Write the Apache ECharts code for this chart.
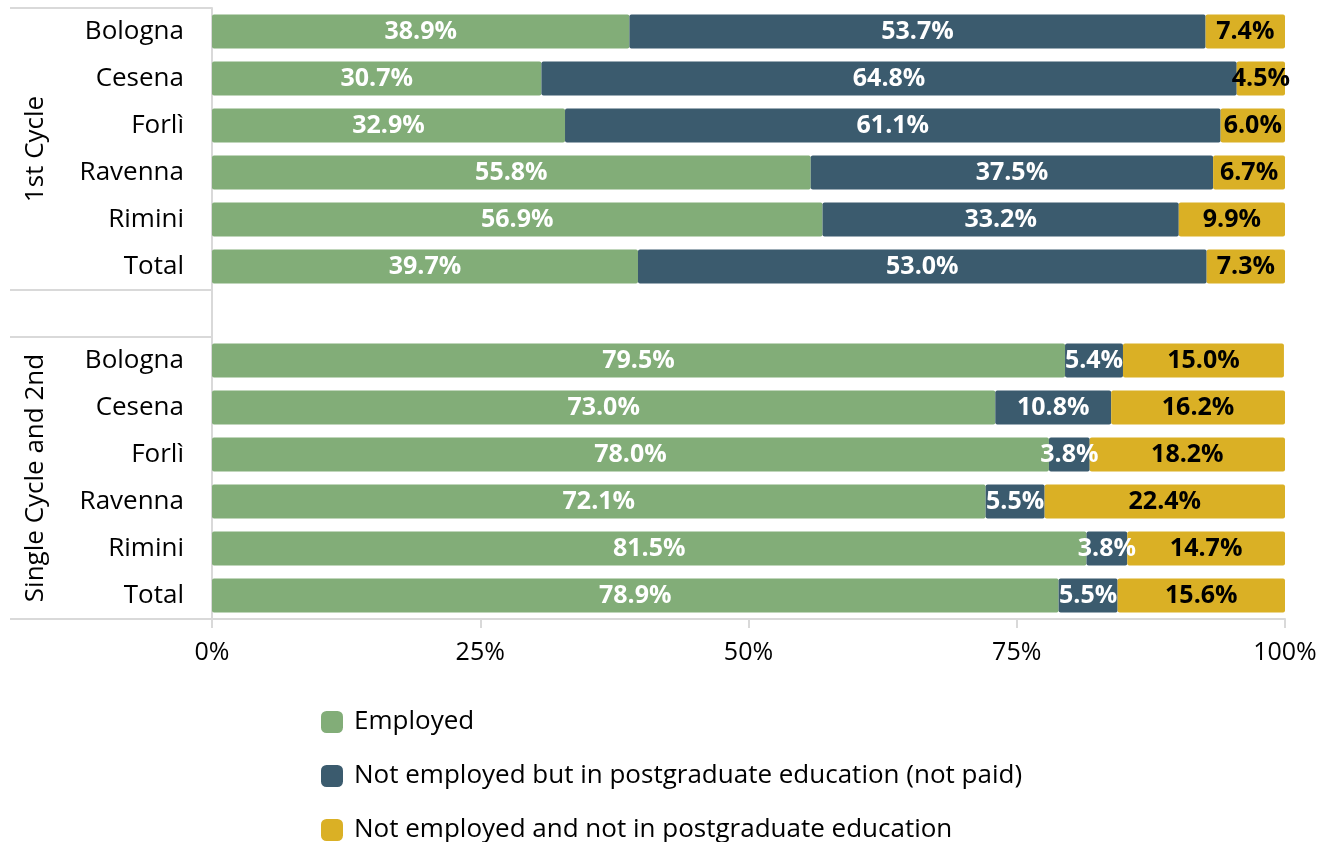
<!DOCTYPE html>
<html>
<head>
<meta charset="utf-8">
<script src="https://cdn.jsdelivr.net/npm/echarts@6/dist/echarts.min.js"></script>
<style>
  html, body { margin: 0; padding: 0; background: #fff; }
  #chart-container { width: 1320px; height: 842px; }
</style>
</head>
<body>
<div id="chart-container"></div>
<script>
// 類別 (中間空一行當作分組間隔)
const categories = ['Bologna', 'Cesena', 'Forlì', 'Ravenna', 'Rimini', 'Total', '',
                    'Bologna', 'Cesena', 'Forlì', 'Ravenna', 'Rimini', 'Total'];
const groupNames = ['1st Cycle', 'Single Cycle and 2nd'];
const seriesNames = ['Employed', 'Not employed but in postgraduate education (not paid)', 'Not employed and not in postgraduate education'];

// 各系列數值 (%)
const employed   = [38.9, 30.7, 32.9, 55.8, 56.9, 39.7, null, 79.5, 73.0, 78.0, 72.1, 81.5, 78.9];
const postgrad   = [53.7, 64.8, 61.1, 37.5, 33.2, 53.0, null,  5.4, 10.8,  3.8,  5.5,  3.8,  5.5];
const notEmpl    = [ 7.4,  4.5,  6.0,  6.7,  9.9,  7.3, null, 15.0, 16.2, 18.2, 22.4, 14.7, 15.6];

const xTicks = [0, 25, 50, 75, 100];

const colors = ['#82AD78', '#3B5B6E', '#DAB025'];
const labelColors = ['#fff', '#fff', '#000'];
const FONT = 'Open Sans';

const chart = echarts.init(document.getElementById('chart-container'));

const makeSeries = (name, data, i) => ({
    name: name,
    type: 'bar',
    stack: 'Total',
    barWidth: 34,
    data: data,
    itemStyle: { color: colors[i], borderRadius: 2 },
    label: {
        show: true,
        position: 'inside',
        formatter: p => p.value == null ? '' : p.value.toFixed(1) + '%',
        color: labelColors[i],
        fontFamily: FONT,
        fontWeight: 'bold',
        fontSize: 25
    }
});

const option = {
    animation: false,
    grid: { left: 212, right: 35, top: 8, bottom: 223, containLabel: false },
    legend: {
        orient: 'vertical',
        left: 321,
        top: 709,
        width: 900,
        height: 200,
        padding: 0,
        itemWidth: 22,
        itemHeight: 22,
        itemGap: 28,
        icon: 'roundRect',
        data: seriesNames,
        textStyle: { fontFamily: FONT, fontSize: 26, lineHeight: 22, color: '#000', padding: [0, 0, 0, 6] }
    },
    xAxis: {
        type: 'value',
        min: xTicks[0],
        max: xTicks[xTicks.length - 1],
        interval: 25,
        axisLine: { show: true, onZero: false, lineStyle: { color: '#d9d9d9', width: 2 } },
        axisTick: { show: true, length: 9, lineStyle: { color: '#d9d9d9', width: 2 } },
        splitLine: { show: false },
        axisLabel: { formatter: '{value}%', margin: 21, fontFamily: FONT, fontSize: 25, color: '#000' }
    },
    yAxis: [
        {
            type: 'category',
            inverse: true,
            data: categories,
            axisLine: { show: true, lineStyle: { color: '#d9d9d9', width: 2 } },
            axisTick: { show: false },
            axisLabel: { margin: 28, fontFamily: FONT, fontSize: 26, color: '#000' }
        },
        {
            // 分組名稱與分隔線
            type: 'value',
            position: 'left',
            inverse: true,
            min: 0,
            max: categories.length,
            axisLine: { show: false },
            splitLine: { show: false },
            axisTick: {
                show: true,
                customValues: [0, 6, 7, 13],
                length: 202,
                lineStyle: { color: '#d9d9d9', width: 2 }
            },
            axisLabel: {
                customValues: [3, 10],
                formatter: v => v === 3 ? groupNames[0] : groupNames[1],
                rotate: 90,
                margin: 163,
                fontFamily: FONT,
                fontSize: 26,
                color: '#000'
            }
        }
    ],
    series: [
        makeSeries(seriesNames[0], employed, 0),
        makeSeries(seriesNames[1], postgrad, 1),
        makeSeries(seriesNames[2], notEmpl, 2)
    ]
};

chart.setOption(option);
window.addEventListener('resize', () => chart.resize());
</script>
</body>
</html>
